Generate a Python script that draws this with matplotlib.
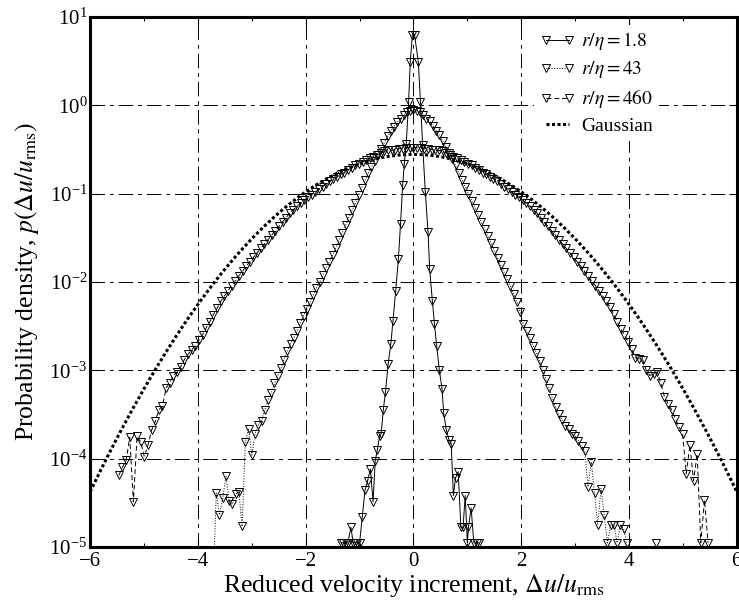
import matplotlib
matplotlib.use("Agg")
import matplotlib.pyplot as plt
from matplotlib.ticker import LogLocator, MultipleLocator, NullLocator
import numpy as np

plt.rcParams['font.family'] = ['Liberation Serif', 'DejaVu Serif']
plt.rcParams['mathtext.fontset'] = 'stix'

# r/eta = 1.8 : measured points (x, log10 p)
s1_x = [-1.34, -1.30, -1.26, -1.22, -1.16, -1.12, -1.08, -1.04, -1.00, -0.95,
        -0.90, -0.85, -0.80, -0.75, -0.71, -0.67, -0.63, -0.60, -0.56, -0.52,
        -0.47, -0.42, -0.38, -0.33, -0.28, -0.24, -0.20, -0.17, -0.135, -0.09,
        -0.06, -0.02, 0.02, 0.09, 0.13, 0.17, 0.22, 0.27, 0.30, 0.35,
        0.39, 0.43, 0.48, 0.53, 0.56, 0.61, 0.66, 0.70, 0.74, 0.78,
        0.83, 0.88, 0.92, 0.96, 1.00, 1.02, 1.07, 1.12, 1.17, 1.22]
s1_log = [-4.955, -4.955, -4.955, -4.955, -4.78, -4.955, -4.955, -4.955, -4.955, -4.66,
          -4.36, -4.25, -4.12, -4.49, -4.03, -3.90, -3.75, -3.72, -3.45, -3.25,
          -2.93, -2.70, -2.44, -2.10, -1.74, -1.34, -0.90, -0.66, -0.44, 0.04,
          0.49, 0.80, 0.80, 0.49, 0.04, -0.45, -0.98, -1.43, -1.85, -2.21,
          -2.48, -2.72, -3.00, -3.21, -3.48, -3.68, -3.79, -3.83, -4.42, -4.22,
          -4.15, -4.78, -4.78, -4.42, -4.955, -4.78, -4.56, -4.955, -4.955, -4.955]

# r/eta = 43 : bins of width 0.06, k = -62 .. 75
s2_bin = 0.06
s2_k = np.arange(-62, 76)
s2_log = [-5.5, -4.39, -4.64, -4.45, -4.20, -4.48, -4.52, -4.40, -4.38, -4.77,
          -3.81, -3.66, -3.96, -3.72, -3.62, -3.57, -3.45, -3.34, -3.26, -3.15,
          -3.06, -2.98, -2.88, -2.78, -2.70, -2.63, -2.55, -2.46, -2.38, -2.31,
          -2.23, -2.15, -2.07, -2.00, -1.92, -1.84, -1.77, -1.69, -1.61, -1.53,
          -1.44, -1.36, -1.27, -1.19, -1.11, -1.02, -0.93, -0.85, -0.77, -0.70,
          -0.63, -0.56, -0.49, -0.42, -0.35, -0.29, -0.24, -0.19, -0.15, -0.11,
          -0.08, -0.06,
          -0.05,
          -0.06, -0.08, -0.11, -0.15, -0.18, -0.23, -0.29, -0.34, -0.40, -0.47,
          -0.54, -0.61, -0.68, -0.76, -0.84, -0.92, -1.00, -1.08, -1.16, -1.24,
          -1.32, -1.40, -1.48, -1.56, -1.65, -1.73, -1.81, -1.89, -1.97, -2.05,
          -2.14, -2.23, -2.34, -2.48, -2.56, -2.64, -2.72, -2.80, -2.90, -3.00,
          -3.10, -3.20, -3.32, -3.42, -3.50, -3.56, -3.63, -3.67, -3.72, -3.75,
          -3.80, -3.86, -3.92, -4.32, -4.04, -4.39, -4.75, -4.34, -4.64, -4.955,
          -4.75, -4.75, -4.955, -4.75, -4.80, -4.955,
          np.nan, np.nan, np.nan, np.nan, np.nan, np.nan, np.nan, np.nan, -4.955]

# r/eta = 460 : bins of width 0.0675, k = -81 .. 81
s3_bin = 0.0675
s3_k = np.arange(-81, 82)
s3_log = [-4.19, -4.10, -4.02, -3.76, -4.49, -3.75, -3.81, -3.98, -3.85, -3.68,
          -3.58, -3.45, -3.40, -3.20, -3.14, -3.06, -3.02, -2.96, -2.88, -2.82,
          -2.77, -2.72, -2.66, -2.60, -2.52, -2.45, -2.37, -2.30, -2.22, -2.16,
          -2.10, -2.04, -1.99, -1.93, -1.88, -1.82, -1.77, -1.72, -1.67, -1.62,
          -1.57, -1.52, -1.47, -1.42, -1.37, -1.32, -1.27, -1.22, -1.18, -1.14,
          -1.11, -1.07, -1.04, -1.01, -0.98, -0.95, -0.92, -0.89, -0.86, -0.83,
          -0.81, -0.78, -0.76, -0.73, -0.71, -0.68, -0.66, -0.64, -0.62, -0.60,
          -0.58, -0.56, -0.54, -0.52, -0.51, -0.51, -0.50, -0.49, -0.49, -0.48,
          -0.48,
          -0.48,
          -0.48, -0.48, -0.49, -0.49, -0.50, -0.51, -0.51, -0.52, -0.54, -0.56,
          -0.58, -0.60, -0.62, -0.64, -0.66, -0.68, -0.71, -0.73, -0.76, -0.78,
          -0.81, -0.83, -0.86, -0.89, -0.92, -0.95, -0.98, -1.01, -1.04, -1.07,
          -1.11, -1.14, -1.18, -1.22, -1.27, -1.32, -1.37, -1.42, -1.47, -1.52,
          -1.57, -1.62, -1.67, -1.72, -1.77, -1.82, -1.88, -1.93, -1.99, -2.04,
          -2.10, -2.16, -2.22, -2.28, -2.36, -2.45, -2.53, -2.60, -2.68, -2.76,
          -2.86, -2.87, -2.88, -3.00, -3.06, -3.04, -3.02, -3.15, -3.30, -3.38,
          -3.45, -3.55, -3.64, -3.72, -4.17, -3.85, -4.25, -3.95, -4.955, -4.47,
          -4.955]

# reference Gaussian (width)
gauss_sigma = 1.43

s1_x = np.array(s1_x)
s1_p = 10.0 ** np.array(s1_log)
s2_x = s2_bin * s2_k
s2_p = 10.0 ** np.array(s2_log)
s3_x = s3_bin * s3_k
s3_p = 10.0 ** np.array(s3_log)
xg = np.linspace(-6, 6, 600)
pg = np.exp(-xg ** 2 / (2 * gauss_sigma ** 2)) / (gauss_sigma * np.sqrt(2 * np.pi))

fig = plt.figure(figsize=(7.39, 6.13), dpi=100)
ax = fig.add_axes([0.122, 0.108, 0.875, 0.864])

mk = dict(marker='v', ms=6, mfc='none', mec='k', mew=0.7, color='k', lw=0.7)
ax.plot(s1_x, s1_p, ls='-', label=r'$r/\eta = 1.8$', **mk)
ax.plot(s2_x, s2_p, ls=':', label=r'$r/\eta = 43$', **mk)
ax.plot(s3_x, s3_p, ls=(0, (5, 3)), label=r'$r/\eta = 460$', **mk)
ax.plot(xg, pg, color='k', lw=2.2, ls=(0, (1, 0.8)), label='Gaussian')

ax.set_yscale('log')
ax.set_xlim(-6, 6)
ax.set_ylim(1e-5, 10)
ax.xaxis.set_major_locator(MultipleLocator(2))
ax.xaxis.set_minor_locator(MultipleLocator(1))
ax.yaxis.set_major_locator(LogLocator(base=10, numticks=10))
ax.yaxis.set_minor_locator(NullLocator())
ax.tick_params(which='both', direction='in', top=True, right=True, labelsize=15, width=0.8)
ax.tick_params(which='major', length=6)
ax.tick_params(which='minor', length=3)
ax.tick_params(axis='y', pad=2)
ax.grid(True, which='major', color='k', lw=0.7, ls=(0, (15, 5, 4, 5)))
for sp in ax.spines.values():
    sp.set_linewidth(2.2)

ax.set_xlabel(r'Reduced velocity increment, $\Delta u/u_{\rm rms}$', fontsize=18.5, labelpad=1)
ax.set_ylabel(r'Probability density, $p(\Delta u/u_{\rm rms})$', fontsize=18.5, labelpad=6)

leg = ax.legend(loc='upper left', bbox_to_anchor=(0.687, 0.986), numpoints=2,
                handlelength=1.8, handletextpad=0.3, labelspacing=0.36,
                fontsize=14, frameon=True, fancybox=False, framealpha=1,
                borderpad=0.3, borderaxespad=0)
leg.get_frame().set_edgecolor('none')

fig.savefig('out.png', dpi=100)
